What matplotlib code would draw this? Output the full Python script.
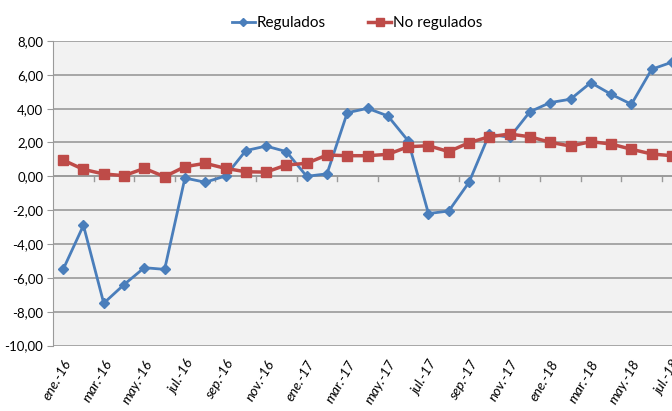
import matplotlib
matplotlib.use("Agg")
import matplotlib.pyplot as plt
from matplotlib.ticker import FuncFormatter
import numpy as np

# data (monthly, ene-16 .. jul-18)
months = ["ene", "feb", "mar", "abr", "may", "jun", "jul", "ago", "sep", "oct", "nov", "dic"]
years = ["16", "17", "18"]
labels = [f"{m}.-{y}" for y in years for m in months][:31]

regulados = [-5.5, -2.9, -7.5, -6.4, -5.4, -5.5, -0.1, -0.35, 0.02, 1.52, 1.79, 1.46,
             0.0, 0.15, 3.76, 4.02, 3.57, 2.1, -2.2, -2.05, -0.35, 2.5, 2.3,
             3.82, 4.36, 4.56, 5.54, 4.85, 4.26, 6.33, 6.75]
no_regulados = [0.96, 0.41, 0.14, 0.04, 0.47, -0.02, 0.57, 0.77, 0.47, 0.27, 0.25, 0.67,
                0.77, 1.26, 1.22, 1.22, 1.30, 1.75, 1.81, 1.46, 1.99, 2.34, 2.50,
                2.34, 2.01, 1.79, 2.05, 1.91, 1.60, 1.32, 1.22]

plt.rcParams["font.family"] = ["Lato", "DejaVu Sans"]

blue = "#4A7EBB"
red = "#BE4B48"
grid_col = "#9A9A9A"

fig = plt.figure(figsize=(6.72, 4.11), dpi=100)
ax = fig.add_axes([53 / 672, 1 - 345.5 / 411, 1 - 53 / 672, (345.5 - 41) / 411])
ax.set_facecolor("#F2F2F2")

x = np.arange(len(labels))
ax.plot(x, regulados, color=blue, lw=2.0, marker="D", ms=5.5, label="Regulados", zorder=3)
ax.plot(x, no_regulados, color=red, lw=2.5, marker="s", ms=7, label="No regulados", zorder=3)

ax.set_ylim(-10, 8)
ax.set_xlim(-0.5, 29.85)
ax.set_yticks(np.arange(-10, 9, 2))
ax.yaxis.set_major_formatter(FuncFormatter(lambda v, p: f"{v:.2f}".replace(".", ",")))
ax.grid(axis="y", color=grid_col, lw=1.2)
ax.set_axisbelow(True)
ax.tick_params(axis="y", length=4, color=grid_col, labelsize=9.5, pad=3)

# category labels every two months, placed under the plot
ax.set_xticks(x[::2])
ax.set_xticklabels(labels[::2], rotation=60, ha="right", va="top",
                   rotation_mode="anchor", fontsize=10, style="italic")
ax.tick_params(axis="x", length=0, pad=9)

# tick marks hang from the zero line, between categories
for t in np.arange(1.5, 30, 2):
    ax.plot([t, t], [0, -0.3], color=grid_col, lw=1, zorder=2)
ax.axhline(0, color=grid_col, lw=1.2, zorder=2)

for s in ["top", "right", "bottom"]:
    ax.spines[s].set_visible(False)
ax.spines["left"].set_color(grid_col)

fig.legend(loc="center", bbox_to_anchor=(357 / 672, 1 - 23 / 411), ncol=2, frameon=False,
           fontsize=11, handlelength=1.5, handletextpad=0.1, columnspacing=2.8,
           markerscale=0.8)

fig.savefig("out.png", dpi=100)
